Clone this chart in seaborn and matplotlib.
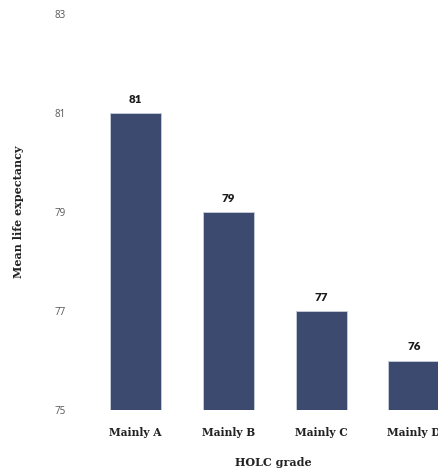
import matplotlib
matplotlib.use("Agg")
import matplotlib.pyplot as plt
import seaborn as sns
import pandas as pd

grades = ["Mainly A", "Mainly B", "Mainly C", "Mainly D"]
life_expectancy = [81, 79, 77, 76]
y_ticks = [75, 77, 79, 81, 83]

df = pd.DataFrame({"grade": grades, "life": life_expectancy})

sns.set_theme(style="white")
plt.rcParams["font.family"] = ["Lato", "DejaVu Sans"]

fig = plt.figure(figsize=(4.38, 4.74), dpi=100)
ax = fig.add_axes([75 / 438, 64 / 474, 1 - 75 / 438, (410 - 14) / 474])

sns.barplot(data=df, x="grade", y="life", color="#3d4a70", width=0.55,
            saturation=1, linewidth=0.6, edgecolor="#c9cedb", ax=ax)

ax.set_ylim(75, 83)
ax.set_yticks(y_ticks)
ax.set_xlim(-0.65, 3.258)
for s in ax.spines.values():
    s.set_visible(False)
ax.tick_params(axis="both", length=0)
ax.tick_params(axis="y", pad=7, labelsize=7, labelcolor="#555555")
ax.tick_params(axis="x", pad=12)
for lbl in ax.get_yticklabels():
    lbl.set_fontfamily(["Open Sans", "DejaVu Sans"])
for lbl in ax.get_xticklabels():
    lbl.set_fontfamily(["DejaVu Serif"])
    lbl.set_fontweight("bold")
    lbl.set_fontsize(7.7)
    lbl.set_color("#222222")

ax.bar_label(ax.containers[0], fmt="%d", padding=6, fontsize=8.3,
             fontweight="heavy", color="#1a1a1a",
             family=["Lato", "DejaVu Sans"])

ax.set_xlabel("HOLC grade", fontfamily="DejaVu Serif", fontweight="bold",
              fontsize=8, color="#222222")
ax.xaxis.set_label_coords((273 - 75) / (438 - 75), -47 / 396)
ax.set_ylabel("Mean life expectancy", fontfamily="DejaVu Serif",
              fontweight="bold", fontsize=8, color="#222222")
ax.yaxis.set_label_coords(-51 / 363, 0.5)

fig.savefig("out.png", dpi=100)
